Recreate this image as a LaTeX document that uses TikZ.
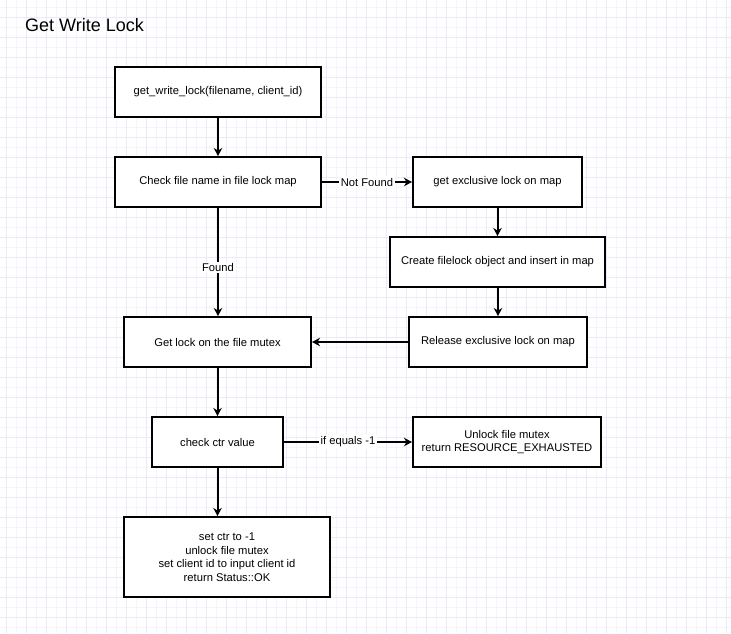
\documentclass[tikz,border=0pt]{standalone}
\usepackage{fontspec}
\setmainfont{Liberation Sans}
\usetikzlibrary{arrows.meta}
\definecolor{gridMinor}{RGB}{245,244,253}
\definecolor{gridMajor}{RGB}{236,233,251}
\tikzset{
  flowbox/.style={draw=black, line width=2pt, fill=white, align=center, inner sep=2pt, minimum height=50, font=\fontsize{11.2}{13.5}\selectfont},
  flowarrow/.style={line width=2pt, -{Stealth[length=8pt,width=8.5pt,inset=2.5pt]}},
  flowlabel/.style={fill=white, inner sep=1.5pt, font=\fontsize{11.2}{13}\selectfont}
}

\begin{document}
\begin{tikzpicture}[x=1pt,y=-1pt]
\useasboundingbox (0,0) rectangle (731,633);
\fill[white] (0,0) rectangle (731,633);
% grid
\begin{scope}
\clip (0,0) rectangle (731,633);
\foreach \gx in {6,16,...,726} \draw[gridMinor, line width=0.8pt] (\gx,0) -- (\gx,633);
\foreach \gy in {7,17,...,627} \draw[gridMinor, line width=0.8pt] (0,\gy) -- (731,\gy);
\foreach \gx in {6,26,...,726} \draw[gridMajor, line width=0.8pt] (\gx,0) -- (\gx,633);
\foreach \gy in {17,37,...,617} \draw[gridMajor, line width=0.8pt] (0,\gy) -- (731,\gy);
\end{scope}

\node[anchor=west, inner sep=0pt, font=\fontsize{18}{21}\selectfont] (title) at (25,25) {Get Write Lock};

\node[flowbox, minimum width=206] (call) at (218,92) {get\_write\_lock(filename, client\_id)};
\node[flowbox, minimum width=206] (check) at (218,182) {Check file name in file lock map};
\node[flowbox, minimum width=169] (excl) at (497.5,182) {get exclusive lock on map};
\node[flowbox, minimum width=215] (create) at (497.5,262) {Create filelock object and insert in map};
\node[flowbox, minimum width=178] (release) at (498,342) {Release exclusive lock on map};
\node[flowbox, minimum width=187] (mutex) at (217.5,342) {Get lock on the file mutex};
\node[flowbox, minimum width=131] (ctr) at (217.5,442) {check ctr value};
\node[flowbox, minimum width=188] (exhausted) at (507,442) {Unlock file mutex\\return RESOURCE\_EXHAUSTED};
\node[flowbox, minimum width=206, minimum height=80] (ok) at (227,557) {set ctr to -1\\unlock file mutex\\set client id to input client id\\return Status::OK};

\draw[flowarrow] (call) -- (check);
\draw[flowarrow] (check) -- node[flowlabel] {Not Found} (excl);
\draw[flowarrow] (excl) -- (create);
\draw[flowarrow] (create.south -| release) -- (release);
\draw[flowarrow] (release) -- (mutex);
\draw[flowarrow] (check) -- node[flowlabel, pos=0.55] {Found} (mutex.north -| check);
\draw[flowarrow] (mutex) -- (ctr);
\draw[flowarrow] (ctr) -- node[flowlabel] {if equals -1} (exhausted);
\draw[flowarrow] (ctr) -- (ok.north -| ctr);
\end{tikzpicture}
\end{document}
